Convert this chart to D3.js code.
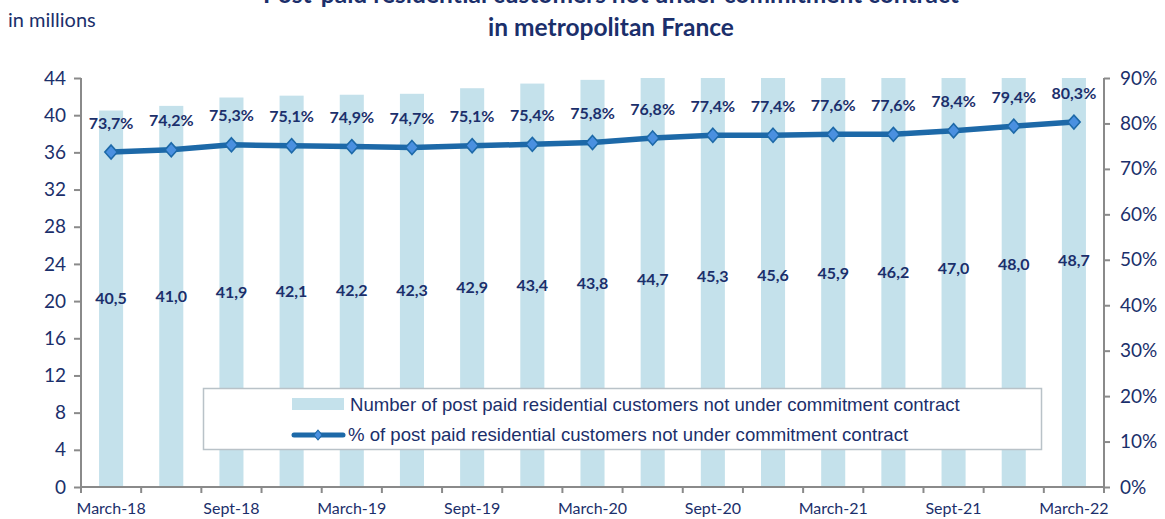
<!DOCTYPE html>
<html>
<head>
<meta charset="utf-8">
<script src="https://cdn.jsdelivr.net/npm/d3@7"></script>
<style>
  body { margin: 0; background: #fff; }
  svg { display: block; font-family: Lato, "Open Sans", sans-serif; }
</style>
</head>
<body>
<svg id="chart" width="1165" height="519"></svg>
<script>
// quarterly categories
var categories = ["March-18", "June-18", "Sept-18", "Dec-18", "March-19", "June-19", "Sept-19", "Dec-19",
  "March-20", "June-20", "Sept-20", "Dec-20", "March-21", "June-21", "Sept-21", "Dec-21", "March-22"];
// number of post paid customers (millions)
var customers = [40.5, 41.0, 41.9, 42.1, 42.2, 42.3, 42.9, 43.4, 43.8, 44.7, 45.3, 45.6, 45.9, 46.2, 47.0, 48.0, 48.7];
// share not under commitment (%)
var shares = [73.7, 74.2, 75.3, 75.1, 74.9, 74.7, 75.1, 75.4, 75.8, 76.8, 77.4, 77.4, 77.6, 77.6, 78.4, 79.4, 80.3];
var leftTicks = [0, 4, 8, 12, 16, 20, 24, 28, 32, 36, 40, 44];
var rightTicks = [0, 10, 20, 30, 40, 50, 60, 70, 80, 90];
var xLabels = ["March-18", "Sept-18", "March-19", "Sept-19", "March-20", "Sept-20", "March-21", "Sept-21", "March-22"];
var legendLabels = ["Number of post paid residential customers not under commitment contract",
  "% of post paid residential customers not under commitment contract"];
var titleLines = ["Post-paid residential customers not under commitment contract", "in metropolitan France"];

var navy = "#1b2f6b", axisGrey = "#8a8a8a", barColor = "#c4e1eb", lineColor = "#1d69a8",
    markFill = "#4a90e0";

var svg = d3.select("#chart");
var margin = { top: 78, left: 81, right: 61, bottom: 32 };
var width = 1165 - margin.left - margin.right;
var height = 519 - margin.top - margin.bottom;
var g = svg.append("g").attr("transform", "translate(" + margin.left + "," + margin.top + ")");

var x = d3.scaleBand().domain(categories).range([0, width]).paddingInner(0.6).paddingOuter(0.3);
var band = d3.scaleBand().domain(categories).range([0, width]);
var y = d3.scaleLinear().domain([0, 44]).range([height, 0]);
var y2 = d3.scaleLinear().domain([0, 90]).range([height, 0]);

// title
svg.append("g").selectAll("text").data(titleLines).enter().append("text")
  .attr("x", 611).attr("y", function (d, i) { return 3 + i * 33; })
  .attr("text-anchor", "middle").attr("fill", navy)
  .attr("font-weight", "bold").attr("font-size", 24.5)
  .text(function (d) { return d; });

svg.append("text").attr("x", 8).attr("y", 27).attr("fill", navy).attr("font-size", 20)
  .text("in millions");

// bars (clipped at the axis max)
svg.append("clipPath").attr("id", "plotclip").append("rect")
  .attr("width", width).attr("height", height);
g.append("g").attr("clip-path", "url(#plotclip)")
  .selectAll("rect").data(customers).enter().append("rect")
  .attr("x", function (d, i) { return x(categories[i]); })
  .attr("y", function (d) { return y(d); })
  .attr("width", x.bandwidth())
  .attr("height", function (d) { return height - y(d); })
  .attr("fill", barColor);

// axes
var axisL = g.append("g").call(d3.axisLeft(y).tickValues(leftTicks).tickSize(7).tickPadding(8));
var axisR = g.append("g").attr("transform", "translate(" + width + ",0)")
  .call(d3.axisRight(y2).tickValues(rightTicks).tickSize(6).tickPadding(10)
    .tickFormat(function (d) { return d + "%"; }));
var axisB = g.append("g").attr("transform", "translate(0," + height + ")")
  .call(d3.axisBottom(band).tickSize(0).tickPadding(16)
    .tickFormat(function (d) { return xLabels.indexOf(d) >= 0 ? d : ""; }));
// tick marks on the category boundaries
axisB.selectAll(".bound").data(d3.range(categories.length + 1)).enter().append("line")
  .attr("class", "bound")
  .attr("x1", function (i) { return i * band.step(); })
  .attr("x2", function (i) { return i * band.step(); })
  .attr("y1", 0).attr("y2", 6)
  .attr("stroke", axisGrey).attr("stroke-width", 2);

[axisL, axisR, axisB].forEach(function (a) {
  a.select(".domain").attr("stroke", axisGrey).attr("stroke-width", 2);
  a.selectAll(".tick line").attr("stroke", axisGrey).attr("stroke-width", 2);
  a.selectAll(".tick text").attr("fill", navy).attr("font-family", "Lato, sans-serif");
});
axisL.selectAll(".tick text").attr("font-size", 19);
axisR.selectAll(".tick text").attr("font-size", 19);
axisB.selectAll(".tick text").attr("font-size", 16);
axisB.select(".domain").attr("d", "M0,0H" + width);
axisL.select(".domain").attr("d", "M0,0V" + height);
axisR.select(".domain").attr("d", "M0,0V" + height);

// bar value labels
g.append("g").selectAll("text").data(customers).enter().append("text")
  .attr("x", function (d, i) { return x(categories[i]) + x.bandwidth() / 2; })
  .attr("y", function (d) { return y(d / 2); })
  .attr("dy", "0.35em").attr("text-anchor", "middle")
  .attr("fill", navy).attr("font-weight", "bold").attr("font-size", 16)
  .text(function (d) { return d.toFixed(1).replace(".", ","); });

// legend box
var lg = svg.append("g");
lg.append("rect").attr("x", 203.5).attr("y", 388.5).attr("width", 838).attr("height", 61)
  .attr("fill", "#fff").attr("stroke", "#b9c2c8").attr("stroke-width", 1.5);
lg.append("rect").attr("x", 292).attr("y", 398).attr("width", 52).attr("height", 12).attr("fill", barColor);
lg.append("line").attr("x1", 294).attr("x2", 343).attr("y1", 435).attr("y2", 435)
  .attr("stroke", lineColor).attr("stroke-width", 5).attr("stroke-linecap", "round");
lg.append("path").attr("d", d3.symbol(d3.symbolDiamond2, 45)())
  .attr("transform", "translate(318,435) scale(1,1.15)")
  .attr("fill", markFill).attr("stroke", lineColor).attr("stroke-width", 1);
lg.selectAll("text.leg").data(legendLabels).enter().append("text").attr("class", "leg")
  .attr("x", function (d, i) { return i ? 348 : 350; })
  .attr("y", function (d, i) { return 411 + i * 30; })
  .attr("fill", navy).attr("font-family", "'Liberation Sans', Arial, sans-serif").attr("font-size", 18.6)
  .text(function (d) { return d; });

// line series
var cx = function (i) { return x(categories[i]) + x.bandwidth() / 2; };
g.append("path").datum(shares)
  .attr("d", d3.line().x(function (d, i) { return cx(i); }).y(function (d) { return y2(d); }))
  .attr("fill", "none").attr("stroke", lineColor).attr("stroke-width", 5.5).attr("stroke-linejoin", "round");
g.append("g").selectAll("path").data(shares).enter().append("path")
  .attr("d", d3.symbol(d3.symbolDiamond2, 100)())
  .attr("transform", function (d, i) { return "translate(" + cx(i) + "," + y2(d) + ") scale(1,1.12)"; })
  .attr("fill", markFill).attr("stroke", lineColor).attr("stroke-width", 1.5);
g.append("g").selectAll("text").data(shares).enter().append("text")
  .attr("x", function (d, i) { return cx(i); })
  .attr("y", function (d) { return y2(d) - 29; })
  .attr("dy", "0.35em").attr("text-anchor", "middle")
  .attr("fill", navy).attr("font-weight", "bold").attr("font-size", 16)
  .text(function (d) { return d.toFixed(1).replace(".", ",") + "%"; });
</script>
</body>
</html>
